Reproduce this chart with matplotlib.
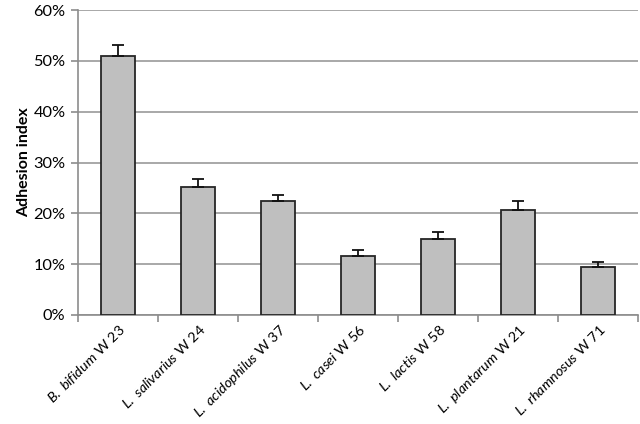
import matplotlib
matplotlib.use("Agg")
import matplotlib.pyplot as plt
import numpy as np
from matplotlib.ticker import FuncFormatter, FixedLocator

species = ["B. bifidum", "L. salivarius", "L. acidophilus", "L. casei",
           "L. lactis", "L. plantarum", "L. rhamnosus"]
strains = ["W 23", "W 24", "W 37", "W 56", "W 58", "W 21", "W 71"]
values = [51.0, 25.2, 22.4, 11.6, 15.0, 20.7, 9.5]
errors = [2.1, 1.5, 1.3, 1.1, 1.3, 1.8, 1.0]

plt.rcParams['font.family'] = ['Lato', 'DejaVu Sans']
plt.rcParams['mathtext.fontset'] = 'custom'
plt.rcParams['mathtext.rm'] = 'Lato'
plt.rcParams['mathtext.it'] = 'Lato:italic'

fig = plt.figure(figsize=(6.4, 4.24), dpi=100)
ax = fig.add_axes([78/640, 1-315/424, (638-78)/640, (315-10)/424])

x = np.arange(len(species))
ax.bar(x, values, width=0.42, color='#bfbfbf', edgecolor='#262626', linewidth=1.3, zorder=3)
ax.errorbar(x, values, yerr=[np.zeros(len(errors)), errors], fmt='none',
            ecolor='#111111', elinewidth=1.3, capsize=4, capthick=1.3, zorder=4)

ax.set_xlim(-0.5, len(species) - 0.5)
ax.set_ylim(0, 60)
ax.set_yticks(np.arange(0, 61, 10))
ax.yaxis.set_major_formatter(FuncFormatter(lambda v, p: f"{int(v)}%"))
ax.grid(axis='y', color='#9a9a9a', linewidth=1.2, zorder=0)

labels = [r'$\it{' + s.replace(' ', r'\ ') + r'}$ ' + w for s, w in zip(species, strains)]
ax.set_xticks(x)
ax.set_xticklabels(labels, rotation=45, ha='right', va='top', rotation_mode='anchor', fontsize=10.4)
ax.tick_params(axis='x', which='major', length=0, pad=5)
ax.xaxis.set_minor_locator(FixedLocator(np.arange(-0.5, len(species), 1.0)))
ax.tick_params(axis='x', which='minor', length=5, color='#8c8c8c', width=1.2)
ax.tick_params(axis='y', length=5, color='#8c8c8c', width=1.2, labelsize=11.8, pad=4)

for s in ['top', 'right']:
    ax.spines[s].set_visible(False)
for s in ['left', 'bottom']:
    ax.spines[s].set_color('#8c8c8c')
    ax.spines[s].set_linewidth(1.2)

ax.set_ylabel('Adhesion index', fontsize=11.5, fontweight='bold', labelpad=2)

fig.savefig('out.png', dpi=100)
